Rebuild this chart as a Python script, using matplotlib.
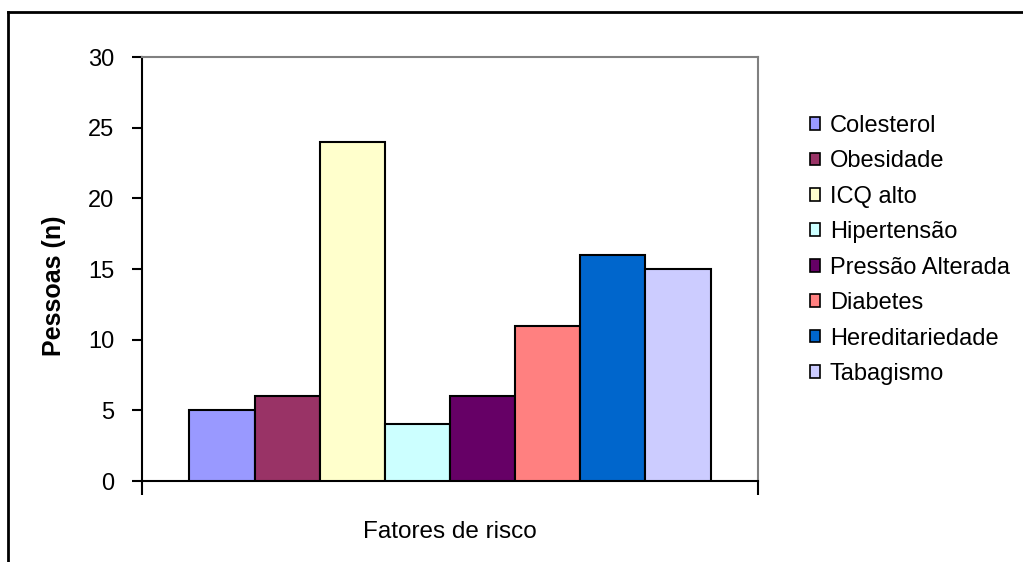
import matplotlib
matplotlib.use("Agg")
import matplotlib.pyplot as plt
from matplotlib.patches import Patch
from matplotlib.lines import Line2D
import numpy as np

# risk factors and counts
fatores = ["Colesterol", "Obesidade", "ICQ alto", "Hipertensão",
           "Pressão Alterada", "Diabetes", "Hereditariedade", "Tabagismo"]
pessoas = [5, 6, 24, 4, 6, 11, 16, 15]
cores = ["#9999FF", "#993366", "#FFFFCC", "#CCFFFF",
         "#660066", "#FF8080", "#0066CC", "#CCCCFF"]
yticks = [0, 5, 10, 15, 20, 25, 30]

plt.rcParams['font.family'] = ['Liberation Sans', 'DejaVu Sans']

fig = plt.figure(figsize=(10.23, 5.62), dpi=100)
ax = fig.add_axes([142/1023, 1-481/562, 616/1023, 424/562])

n = len(pessoas)
group = 0.846
w = group / n
ind = -group/2 + w/2 + np.arange(n) * w
for i in range(n):
	ax.bar(ind[i], pessoas[i], width=w, color=cores[i], edgecolor="black",
		linewidth=1.5, label=fatores[i], zorder=3)

ax.set_xlim(-0.5, 0.5)
ax.set_ylim(0, 30)
ax.set_yticks(yticks)
ax.set_xticks([-0.5, 0.5])
ax.set_xticklabels([])
ax.tick_params(axis="y", direction="out", length=7, width=1.5, labelsize=17, pad=13)
ax.tick_params(axis="x", direction="out", length=10, width=1.5)

for s in ["left", "bottom"]:
	ax.spines[s].set_color("black")
	ax.spines[s].set_linewidth(1.5)
for s in ["top", "right"]:
	ax.spines[s].set_color("#808080")
	ax.spines[s].set_linewidth(1.5)

ax.set_ylabel("Pessoas (n)", fontsize=18, fontweight="bold")
ax.yaxis.set_label_coords(-0.124, 0.46)
ax.set_xlabel("Fatores de risco", fontsize=17.5)
ax.xaxis.set_label_coords(0.5, -0.095)

handles = [Patch(facecolor=cores[i], edgecolor="black", linewidth=1.2) for i in range(n)]
fig.legend(handles, fatores, loc="upper left", bbox_to_anchor=(798/1023, 1-103/562),
	frameon=False, fontsize=17, handlelength=0.45, handleheight=0.45,
	handletextpad=0.4, labelspacing=0.57, borderpad=0)

# outer chart frame (clipped at right and bottom)
fig.add_artist(Line2D([8/1023, 8/1023], [0, 1-12/562], color="black", linewidth=2,
	transform=fig.transFigure))
fig.add_artist(Line2D([8/1023, 1], [1-12/562, 1-12/562], color="black", linewidth=2,
	transform=fig.transFigure))

fig.savefig("out.png", dpi=100)
